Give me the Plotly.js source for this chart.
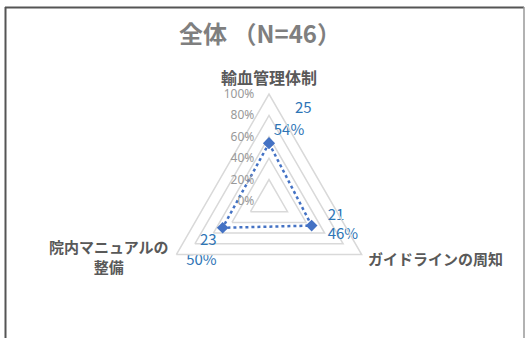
<!DOCTYPE html>
<html>
<head>
<meta charset="utf-8">
<script src="https://cdn.plot.ly/plotly-3.0.1.min.js"></script>
<style>html,body{margin:0;padding:0;background:#fff;}#chart{width:526px;height:338px;}</style>
</head>
<body>
<div id="chart"></div>
<script>
const categories = ["輸血管理体制", "ガイドラインの周知", "院内マニュアルの整備"];
const categoryLabels = ["輸血管理体制", "ガイドラインの周知", "院内マニュアルの<br>整備"];
const counts = [25, 21, 23];
const percents = [54, 46, 50];
const radialTicks = [0, 20, 40, 60, 80, 100];
const titleText = "全体 （N=46）";

const W = 526, H = 338;
const cx = 269, cy = 201, R = 107;

const r = percents.map(p => p / 100);
const labelFont = {family: "Noto Sans CJK JP, Noto Sans, sans-serif", size: 15, color: "#2e75b6"};
const hidden = (sizes) => ({size: sizes, color: "rgba(0,0,0,0)", line: {width: 0}});

const lineTrace = {
  type: "scatterpolar",
  r: r.concat([r[0]]),
  theta: categories.concat([categories[0]]),
  mode: "lines+markers",
  line: {color: "#4472c4", width: 2.5, dash: "dot"},
  marker: {symbol: "diamond", size: 9, color: "#4472c4", line: {width: 0}},
  cliponaxis: false,
  hoverinfo: "skip",
  showlegend: false
};

// top point: count and percent placed separately
const topCountTrace = {
  type: "scatterpolar", r: [r[0]], theta: [categories[0]],
  mode: "markers+text", text: [String(counts[0])], textposition: "top right",
  textfont: labelFont, marker: hidden(40), cliponaxis: false, hoverinfo: "skip", showlegend: false
};
const topPctTrace = {
  type: "scatterpolar", r: [r[0]], theta: [categories[0]],
  mode: "markers+text", text: [percents[0] + "%"], textposition: "top right",
  textfont: labelFont, marker: hidden(6), cliponaxis: false, hoverinfo: "skip", showlegend: false
};
// lower points: two-line labels
const lowerLabelTrace = {
  type: "scatterpolar",
  r: r.slice(1),
  theta: categories.slice(1),
  mode: "markers+text",
  text: counts.slice(1).map((c, i) => c + "<br>" + percents[i + 1] + "%"),
  textposition: ["middle right", "bottom left"],
  textfont: labelFont,
  marker: hidden([24, 8]),
  cliponaxis: false, hoverinfo: "skip", showlegend: false
};

const catFont = {family: "Noto Sans CJK JP, sans-serif", size: 15, color: "#595959", weight: "bold"};

const layout = {
  width: W, height: H,
  margin: {l: 0, r: 0, t: 0, b: 0},
  paper_bgcolor: "#ffffff",
  showlegend: false,
  title: {
    text: titleText,
    x: 260 / W, xanchor: "center",
    y: 1 - 35 / H, yanchor: "middle",
    font: {family: "Noto Sans CJK JP, sans-serif", size: 24, color: "#7f7f7f", weight: "bold"}
  },
  polar: {
    domain: {x: [(cx - R) / W, (cx + R) / W], y: [(H - cy - R) / H, (H - cy + R) / H]},
    gridshape: "linear",
    bgcolor: "rgba(0,0,0,0)",
    angularaxis: {
      direction: "clockwise",
      rotation: 90,
      showticklabels: false,
      ticks: "",
      showgrid: false,
      showline: true,
      linecolor: "#d9d9d9",
      linewidth: 1.5
    },
    radialaxis: {
      range: [0, 1],
      tickvals: radialTicks.map(v => v / 100),
      ticktext: radialTicks.map(v => v + "%"),
      angle: 90,
      side: "counterclockwise",
      tickangle: 90,
      showline: false,
      ticks: "outside",
      ticklen: 10,
      tickcolor: "rgba(0,0,0,0)",
      gridcolor: "#d9d9d9",
      gridwidth: 1.5,
      tickfont: {family: "Noto Sans, sans-serif", size: 12, color: "#999999"}
    }
  },
  annotations: [
    {text: categoryLabels[0], x: 269 / W, y: 1 - 77 / H, xref: "paper", yref: "paper", showarrow: false, xanchor: "center", yanchor: "middle", font: Object.assign({}, catFont, {size: 16})},
    {text: categoryLabels[1], x: 435 / W, y: 1 - 258 / H, xref: "paper", yref: "paper", showarrow: false, xanchor: "center", yanchor: "middle", font: catFont},
    {text: categoryLabels[2], x: 109 / W, y: 1 - 256 / H, xref: "paper", yref: "paper", showarrow: false, xanchor: "center", yanchor: "middle", align: "center", font: catFont}
  ],
  shapes: [
    {type: "line", xref: "paper", yref: "paper", x0: 5 / W, x1: 524 / W, y0: 1 - 7.5 / H, y1: 1 - 7.5 / H, line: {color: "#555555", width: 2}},
    {type: "line", xref: "paper", yref: "paper", x0: 5.5 / W, x1: 5.5 / W, y0: -0.02, y1: 1 - 7 / H, line: {color: "#555555", width: 2}},
    {type: "line", xref: "paper", yref: "paper", x0: 524 / W, x1: 524 / W, y0: -0.02, y1: 1 - 7 / H, line: {color: "#999999", width: 1.5}}
  ]
};

Plotly.newPlot("chart", [lineTrace, topCountTrace, topPctTrace, lowerLabelTrace], layout, {displayModeBar: false, staticPlot: true});
</script>
</body>
</html>
